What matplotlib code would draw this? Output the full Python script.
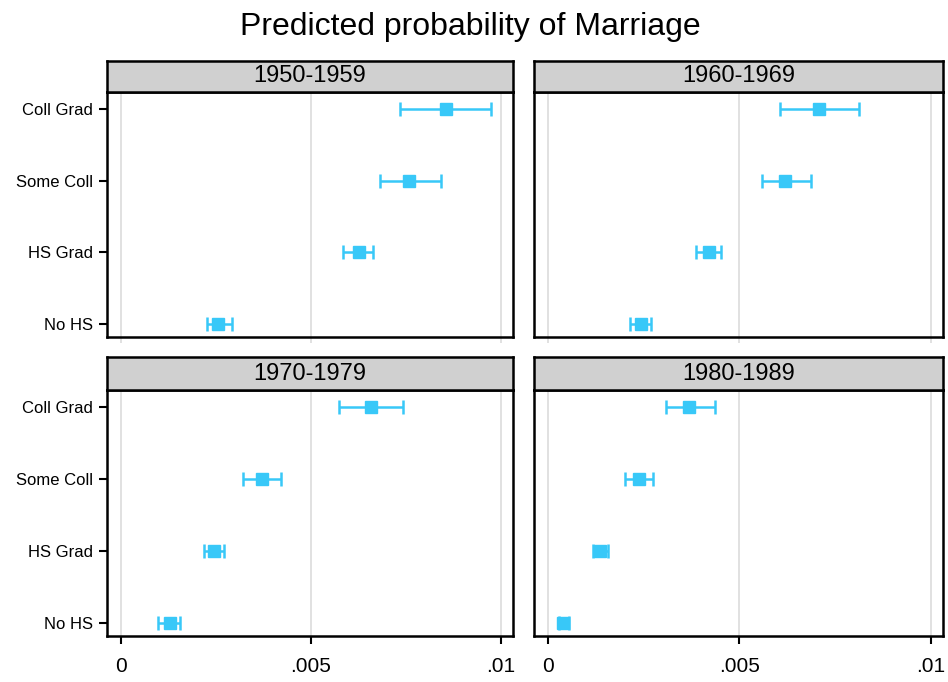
import matplotlib.pyplot as plt
import numpy as np

plt.rcParams['font.family'] = ['Liberation Sans', 'DejaVu Sans']

# Categorias e coortes
categories = ["No HS", "HS Grad", "Some Coll", "Coll Grad"]
cohorts = ["1950-1959", "1960-1969", "1970-1979", "1980-1989"]

# Probabilidades previstas (ordem: No HS, HS Grad, Some Coll, Coll Grad)
est_1950 = [0.00256, 0.00627, 0.00759, 0.00855]
lo_1950 = [0.00226, 0.00585, 0.00682, 0.00734]
hi_1950 = [0.00293, 0.00664, 0.00842, 0.00975]

est_1960 = [0.00243, 0.00421, 0.00620, 0.00709]
lo_1960 = [0.00215, 0.00387, 0.00560, 0.00607]
hi_1960 = [0.00270, 0.00453, 0.00686, 0.00812]

est_1970 = [0.00129, 0.00245, 0.00370, 0.00658]
lo_1970 = [0.00098, 0.00218, 0.00322, 0.00573]
hi_1970 = [0.00155, 0.00271, 0.00420, 0.00743]

est_1980 = [0.00039, 0.00136, 0.00238, 0.00369]
lo_1980 = [0.00029, 0.00118, 0.00202, 0.00309]
hi_1980 = [0.00055, 0.00157, 0.00275, 0.00437]

x_ticks = [0, 0.005, 0.01]
x_ticklabels = ["0", ".005", ".01"]

estimates = [est_1950, est_1960, est_1970, est_1980]
lowers = [lo_1950, lo_1960, lo_1970, lo_1980]
uppers = [hi_1950, hi_1960, hi_1970, hi_1980]

W, H = 948, 682
fig = plt.figure(figsize=(W / 100, H / 100), dpi=100)

# Posições dos painéis em pixels: (esquerda, direita) e (topo da faixa, topo do gráfico, base)
cols = [(107, 513), (534, 943)]
rows = [(61, 92, 337), (357, 390, 636)]

color = '#38c8f8'

fig.text(470 / W, 1 - 27 / H, "Predicted probability of Marriage",
         ha='center', va='center', fontsize=23)

for i, cohort in enumerate(cohorts):
    r, c = divmod(i, 2)
    x0, x1 = cols[c]
    s_top, p_top, p_bot = rows[r]

    ax = fig.add_axes([x0 / W, 1 - p_bot / H, (x1 - x0) / W, (p_bot - p_top) / H])
    strip = fig.add_axes([x0 / W, 1 - p_top / H, (x1 - x0) / W, (p_top - s_top) / H])

    y = np.arange(len(categories))
    est = np.array(estimates[i])
    lo = np.array(lowers[i])
    hi = np.array(uppers[i])

    ax.errorbar(est, y, xerr=[est - lo, hi - est], fmt='s', color=color,
                ecolor=color, elinewidth=1.8, capsize=5, capthick=1.8,
                markersize=8, zorder=3)

    ax.set_xlim(-0.00037, 0.01032)
    ax.set_ylim(-0.18, 3.24)
    ax.set_xticks(x_ticks)
    ax.grid(True, axis='x', color='#dcdcdc', linewidth=1.2)
    ax.set_axisbelow(True)
    for sp in ax.spines.values():
        sp.set_linewidth(1.8)

    ax.set_yticks(y)
    if c == 0:
        ax.set_yticklabels(categories, fontsize=12)
        ax.tick_params(axis='y', length=6, width=1.5, pad=4)
    else:
        ax.tick_params(axis='y', length=0, labelleft=False)

    if r == 1:
        ax.set_xticklabels(x_ticklabels, fontsize=15)
        ax.tick_params(axis='x', length=6, width=1.5, pad=9)
    else:
        ax.tick_params(axis='x', length=4, width=1.2, color='#dcdcdc', labelbottom=False)

    strip.set_facecolor('#d0d0d0')
    strip.set_xticks([])
    strip.set_yticks([])
    for sp in strip.spines.values():
        sp.set_linewidth(1.8)
    strip.text(0.5, 0.5, cohort, transform=strip.transAxes, ha='center',
               va='center', fontsize=17)

fig.savefig("out.png", dpi=100)
